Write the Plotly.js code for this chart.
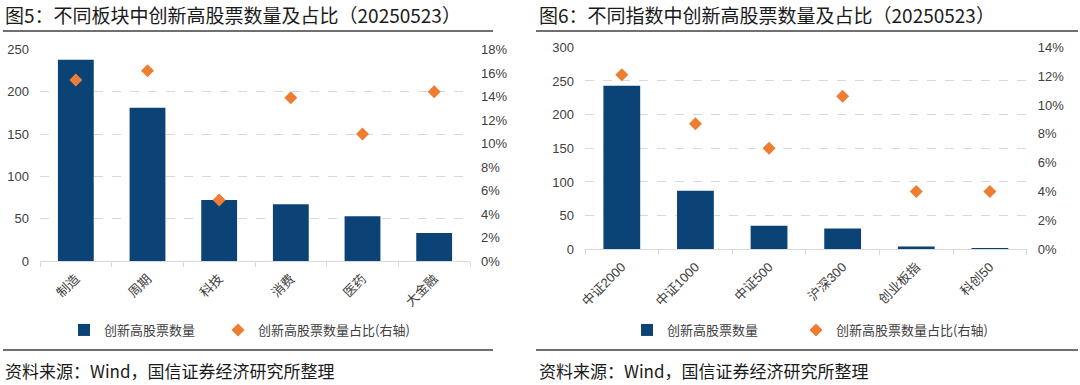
<!DOCTYPE html>
<html>
<head>
<meta charset="utf-8">
<script src="https://cdn.plot.ly/plotly-3.0.1.min.js"></script>
<style>
html,body{margin:0;padding:0;background:#fff;}
#chart{width:1080px;height:385px;}
</style>
</head>
<body>
<div id="chart"></div>
<script>
// ---- data ----
const sectorCats = ['制造','周期','科技','消费','医药','大金融'];
const sectorCounts = [238, 181, 72, 67, 53, 33];
const sectorPct = [15.4, 16.2, 5.2, 13.9, 10.8, 14.4];

const indexCats = ['中证2000','中证1000','中证500','沪深300','创业板指','科创50'];
const indexCounts = [243, 87, 35, 31, 4, 2];
const indexPct = [12.1, 8.7, 7.0, 10.6, 4.0, 4.0];

const seriesBar = '创新高股票数量';
const seriesPct = '创新高股票数量占比(右轴)';
const title1 = '图5：不同板块中创新高股票数量及占比（20250523）';
const title2 = '图6：不同指数中创新高股票数量及占比（20250523）';
const sourceText = '资料来源：Wind，国信证券经济研究所整理';

// ---- style ----
const W = 1080, H = 385;
const px = v => v / W;
const py = v => 1 - v / H;
const BAR = '#0b4377';
const DIA = '#ed7d31';
const GRID = '#d9d9d9';
const numFont = {family: 'Liberation Sans, Arial, sans-serif', size: 13, color: '#404040'};
const catFont = {family: 'Liberation Sans, Noto Sans CJK SC, sans-serif', size: 13, color: '#404040'};
const cjk = 'Noto Sans CJK SC, sans-serif';

const traces = [
  {type: 'bar', x: sectorCats, y: sectorCounts, name: seriesBar, xaxis: 'x', yaxis: 'y',
   marker: {color: BAR}, width: 0.5, legend: 'legend', showlegend: true},
  {type: 'scatter', mode: 'markers', x: sectorCats, y: sectorPct, name: seriesPct, xaxis: 'x', yaxis: 'y2',
   marker: {color: DIA, symbol: 'diamond', size: 10}, legend: 'legend3', showlegend: true},
  {type: 'bar', x: indexCats, y: indexCounts, name: seriesBar, xaxis: 'x2', yaxis: 'y3',
   marker: {color: BAR}, width: 0.5, legend: 'legend2', showlegend: true},
  {type: 'scatter', mode: 'markers', x: indexCats, y: indexPct, name: seriesPct, xaxis: 'x2', yaxis: 'y4',
   marker: {color: DIA, symbol: 'diamond', size: 10}, legend: 'legend4', showlegend: true}
];

function xax(domain, anchor) {
  return {domain: domain, anchor: anchor, type: 'category', range: [-0.5, 5.5],
    showline: true, linecolor: GRID, linewidth: 1, ticks: 'outside', tickson: 'boundaries',
    ticklen: 5, tickcolor: GRID, tickangle: -45, tickfont: catFont, ticklabelstandoff: 4,
    showgrid: false, zeroline: false, fixedrange: true};
}
function yax(domain, anchor, range, dtick, grid) {
  return {domain: domain, anchor: anchor, range: range, dtick: dtick, tickfont: numFont,
    showgrid: grid, gridcolor: GRID, griddash: 'dash', gridwidth: 1, zeroline: false,
    showline: false, ticks: '', ticklabelstandoff: 10, fixedrange: true};
}

const d1x = [px(40), px(470)], d1y = [py(261), py(49.5)];
const d2x = [px(585), px(1026.7)], d2y = [py(249.3), py(47.3)];

function leg(xpx) {
  return {orientation: 'h', xanchor: 'left', yanchor: 'middle', x: px(xpx), y: py(330),
    font: {family: cjk, size: 13, color: '#404040'}, itemwidth: 30, bgcolor: 'rgba(0,0,0,0)', visible: true};
}

const layout = {
  width: W, height: H, margin: {l: 0, r: 0, t: 0, b: 0},
  paper_bgcolor: '#fff', plot_bgcolor: 'rgba(0,0,0,0)',
  font: {family: cjk, color: '#333'},
  showlegend: true,
  xaxis: xax(d1x, 'y'),
  yaxis: yax(d1y, 'x', [0, 250], 50, true),
  yaxis2: Object.assign(yax(d1y, 'x', [0, 18], 2, false), {overlaying: 'y', side: 'right', ticksuffix: '%'}),
  xaxis2: xax(d2x, 'y3'),
  yaxis3: yax(d2y, 'x2', [0, 300], 50, true),
  yaxis4: Object.assign(yax(d2y, 'x2', [0, 14], 2, false), {overlaying: 'y3', side: 'right', ticksuffix: '%'}),
  legend: leg(64),
  legend3: leg(218),
  legend2: leg(627),
  legend4: leg(796),
  shapes: [
    {type: 'line', xref: 'paper', yref: 'paper', x0: px(3), x1: px(493), y0: py(31), y1: py(31), line: {color: '#404040', width: 1.5}},
    {type: 'line', xref: 'paper', yref: 'paper', x0: px(536), x1: px(1078), y0: py(31), y1: py(31), line: {color: '#404040', width: 1.5}},
    {type: 'line', xref: 'paper', yref: 'paper', x0: px(3), x1: px(493), y0: py(350), y1: py(350), line: {color: '#404040', width: 1.5}},
    {type: 'line', xref: 'paper', yref: 'paper', x0: px(536), x1: px(1078), y0: py(350), y1: py(350), line: {color: '#404040', width: 1.5}}
  ],
  annotations: [
    {text: title1, xref: 'paper', yref: 'paper', x: px(3), y: py(14), xanchor: 'left', yanchor: 'middle', showarrow: false,
     font: {family: cjk, size: 19, color: '#1a1a1a'}},
    {text: title2, xref: 'paper', yref: 'paper', x: px(537), y: py(14), xanchor: 'left', yanchor: 'middle', showarrow: false,
     font: {family: cjk, size: 19, color: '#1a1a1a'}},
    {text: sourceText, xref: 'paper', yref: 'paper', x: px(3), y: py(370), xanchor: 'left', yanchor: 'middle', showarrow: false,
     font: {family: cjk, size: 17, color: '#1a1a1a'}},
    {text: sourceText, xref: 'paper', yref: 'paper', x: px(537), y: py(370), xanchor: 'left', yanchor: 'middle', showarrow: false,
     font: {family: cjk, size: 17, color: '#1a1a1a'}}
  ]
};

Plotly.newPlot('chart', traces, layout, {displayModeBar: false, staticPlot: true});
</script>
</body>
</html>
